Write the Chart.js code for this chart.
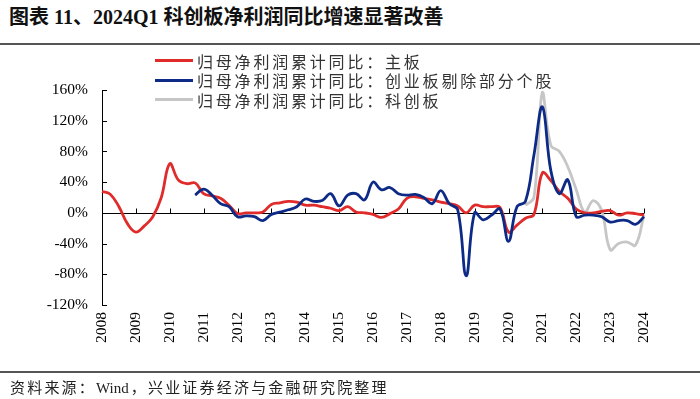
<!DOCTYPE html>
<html>
<head>
<meta charset="utf-8">
<script src="https://cdn.jsdelivr.net/npm/chart.js@4.4.1/dist/chart.umd.min.js"></script>
<style>
  html, body { margin: 0; padding: 0; background: #fff; }
  #wrap { position: relative; width: 700px; height: 399px; overflow: hidden; }
  #chart { position: absolute; left: 0; top: 0; }
  #title { position: absolute; left: 9px; top: 1px; font: bold 20px "Liberation Serif", "Noto Sans CJK SC"; color: #111; white-space: nowrap; }
  .rule { position: absolute; left: 0; width: 700px; height: 2px; background: #555; }
  #legend { position: absolute; left: 155px; top: 51px; }
  .item { display: flex; align-items: center; height: 19.5px; font: 16px "Noto Sans CJK SC"; color: #333; letter-spacing: 2.8px; white-space: nowrap; }
  .swatch { width: 38px; height: 3px; margin-right: 4px; }
  #source { position: absolute; left: 10px; top: 376px; font: 15px "Liberation Serif", "Noto Sans CJK SC"; color: #222; letter-spacing: 2.2px; white-space: nowrap; }
  #source span { letter-spacing: 0; margin-right: 2px; }
</style>
</head>
<body>
<div id="wrap">
  <div id="title">图表 11、2024Q1 科创板净利润同比增速显著改善</div>
  <div class="rule" style="top:43px"></div>
  <canvas id="chart" width="700" height="399"></canvas>
  <div id="legend"></div>
  <div class="rule" style="top:371px"></div>
  <div id="source">资料来源：<span>Wind</span>，兴业证券经济与金融研究院整理</div>
</div>
<script>
const years = ['2008', '2009', '2010', '2011', '2012', '2013', '2014', '2015',
    '2016', '2017', '2018', '2019', '2020', '2021', '2022', '2023', '2024'];

// quarterly points, 2008Q1 .. 2024Q1
const quarters = [];
years.forEach(function (y) {
    ['Q1', 'Q2', 'Q3', 'Q4'].forEach(function (q) { quarters.push(y + q); });
});
quarters.length = 65;

// 归母净利润累计同比：主板
const mainBoard = [
    28, 24, 8, -14, -25, -17, -5, 20,
    64, 43, 38, 39, 25, 22, 19, 10,
    -1, 0, 0, 1, 11, 13, 15, 14,
    10, 10, 8, 6, 3, 8, 1, 0,
    -2, -6, -1, 5, 19, 21, 19, 17,
    14, 12, 9, 0, 10, 8, 8, 7,
    -25, -16, -7, -2, 52, 42, 28, 19,
    5, 0, 0, 2, 3, -3, 0, -1,
    -3
];

// 归母净利润累计同比：创业板剔除部分个股
const chiNext = [
    null, null, null, null, null, null, null, null,
    null, null, null, 23, 31, 23, 12, 8,
    -5, -4, -5, -10, -2, 1, 4, 8,
    18, 15, 16, 25, 9, 23, 25, 17,
    40, 30, 33, 25, 23, 24, 20, 12,
    29, 12, 4, -82, 0, -9, -3, 5,
    -37, 8, 15, 75, 138, 55, 25, 43,
    -5, -3, -3, -5, -12, -10, -10, -15,
    -5
];

// 归母净利润累计同比：科创板
const starBoard = [
    null, null, null, null, null, null, null, null,
    null, null, null, null, null, null, null, null,
    null, null, null, null, null, null, null, null,
    null, null, null, null, null, null, null, null,
    null, null, null, null, null, null, null, null,
    null, null, null, null, null, null, null, null,
    null, null, 10, 20, 157, 88, 80, 60,
    30, 1, 16, 3, -48, -40, -38, -42,
    -3
];

const seriesNames = ['归母净利润累计同比：主板', '归母净利润累计同比：创业板剔除部分个股', '归母净利润累计同比：科创板'];
const seriesColors = ['#e02b2b', '#0e2a87', '#c6c6c6'];

const serif = '"Liberation Serif", "Times New Roman", serif';

// zero line with upward year ticks, inward ticks on the value axis
const axisMarks = {
    id: 'axisMarks',
    beforeDatasetsDraw(chart) {
        const { ctx, chartArea, scales: { x, y } } = chart;
        const y0 = Math.round(y.getPixelForValue(0)) + 0.5;
        ctx.save();
        ctx.strokeStyle = '#000';
        ctx.lineWidth = 1;
        ctx.beginPath();
        ctx.moveTo(chartArea.left, y0);
        ctx.lineTo(chartArea.right, y0);
        quarters.forEach(function (q, i) {
            if (i > 0 && i % 4 === 0) {
                const px = Math.round(x.getPixelForValue(i)) + 0.5;
                ctx.moveTo(px, y0);
                ctx.lineTo(px, y0 - 5);
            }
        });
        y.ticks.forEach(function (t) {
            const py = Math.round(y.getPixelForValue(t.value)) + 0.5;
            ctx.moveTo(chartArea.left, py);
            ctx.lineTo(chartArea.left + 5, py);
        });
        ctx.stroke();
        ctx.restore();
    }
};

const chart = new Chart(document.getElementById('chart'), {
    type: 'line',
    data: {
        labels: quarters,
        datasets: [
            { label: seriesNames[2], data: starBoard, borderColor: seriesColors[2], order: 3 },
            { label: seriesNames[0], data: mainBoard, borderColor: seriesColors[0], order: 2 },
            { label: seriesNames[1], data: chiNext, borderColor: seriesColors[1], order: 1 }
        ]
    },
    options: {
        responsive: false,
        animation: false,
        layout: { padding: { left: 0, right: 56, top: 90, bottom: 0 } },
        elements: {
            line: { borderWidth: 2.8, tension: 0.4, fill: false },
            point: { radius: 0 }
        },
        plugins: { legend: { display: false }, tooltip: { enabled: false } },
        scales: {
            x: {
                type: 'category',
                offset: false,
                grid: { display: false, drawTicks: false },
                border: { display: false },
                ticks: {
                    autoSkip: false,
                    minRotation: 90,
                    maxRotation: 90,
                    padding: 7,
                    color: '#000',
                    font: { family: serif, size: 15.5 },
                    callback: function (v, i) { return i % 4 === 0 ? quarters[i].slice(0, 4) : ''; }
                },
                afterFit: function (scale) { scale.height = 94; }
            },
            y: {
                min: -120,
                max: 160,
                grid: { display: false, drawTicks: false },
                border: { display: true, color: '#000', width: 1 },
                ticks: {
                    stepSize: 40,
                    padding: 14,
                    color: '#000',
                    font: { family: serif, size: 15.5 },
                    callback: function (v) { return v + '%'; }
                },
                afterFit: function (scale) { scale.width = 102; }
            }
        }
    },
    plugins: [axisMarks]
});

// legend in the original order: main board, ChiNext, STAR
const legend = document.getElementById('legend');
[1, 2, 0].forEach(function (k) {
    const ds = chart.data.datasets[k];
    const row = document.createElement('div');
    row.className = 'item';
    row.innerHTML = '<span class="swatch" style="background:' + ds.borderColor + '"></span>' + ds.label;
    legend.appendChild(row);
});
</script>
</body>
</html>
